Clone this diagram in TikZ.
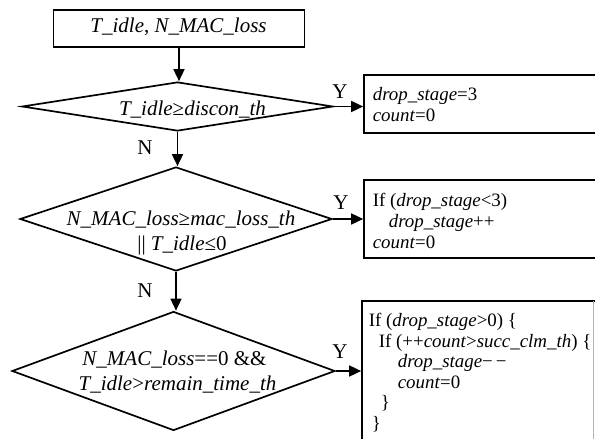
\documentclass[tikz,border=0pt]{standalone}
\usepackage{fontspec}
\setmainfont{Liberation Serif}
\usetikzlibrary{shapes.geometric,arrows.meta}
\begin{document}
\begin{tikzpicture}[x=1pt,y=-1pt,
  line width=1.7pt,
  flow/.style={-{Triangle[length=12pt,width=11pt]}},
  dia/.style={diamond,draw,inner sep=0pt},
  box/.style={draw,inner sep=0pt},
  main/.style={font=\fontsize{21}{24}\selectfont,inner sep=0pt,anchor=base},
  code/.style={font=\fontsize{18.9}{21}\selectfont,inner sep=0pt,anchor=base west},
  yn/.style={font=\fontsize{21}{24}\selectfont,inner sep=0pt}
]
\useasboundingbox (0,0) rectangle (595,439);
\clip (0,0) rectangle (595,439);

% input box
\node[box, minimum width=251pt, minimum height=37pt] (start) at (179,28.5) {};
\node[main] (startT) at (178.5,32.5) {\textit{T\_idle}, \textit{N\_MAC\_loss}};

% decisions
\node[dia, minimum width=311pt, minimum height=49pt] (d1) at (177.5,106.5) {};
\node[main] (d1T) at (192.5,115) {\textit{T\_idle}≥\textit{discon\_th}};

\node[dia, minimum width=312pt, minimum height=104pt] (d2) at (176,219) {};
\node[main] (d2Ta) at (181,225.5) {\textit{N\_MAC\_loss}≥\textit{mac\_loss\_th}};
\node[main] (d2Tb) at (182,250.5) {|| \textit{T\_idle}≤0};

\node[dia, minimum width=323pt, minimum height=119pt] (d3) at (173.5,371) {};
\node[main] (d3Ta) at (174.5,365.5) {\textit{N\_MAC\_loss}==0 \&\&};
\node[main] (d3Tb) at (177.5,390.5) {\textit{T\_idle}>\textit{remain\_time\_th}};

% action boxes
\node[box, minimum width=241pt, minimum height=58pt] (b1) at (484.5,104) {};
\node[code] (b1a) at (372,100) {\textit{drop\_stage}=3};
\node[code] (b1b) at (372,121) {\textit{count}=0};

\node[box, minimum width=241pt, minimum height=78pt] (b2) at (484.5,219) {};
\node[code] (b2a) at (372,206) {If (\textit{drop\_stage}<3)};
\node[code] (b2b) at (388,227) {\textit{drop\_stage}++};
\node[code] (b2c) at (372,248) {\textit{count}=0};

\node[box, minimum width=243pt, minimum height=144pt] (b3) at (483.5,373) {};
\draw[gray!60, line width=0.7pt] (593.5,301) -- (593.5,439);
\node[code] (b3a) at (368,326.5) {If (\textit{drop\_stage}>0) \{};
\node[code] (b3b) at (378,347) {If (++\textit{count}>\textit{succ\_clm\_th}) \{};
\node[code] (b3c) at (397,367.5) {\textit{drop\_stage}−\,−};
\node[code] (b3d) at (397,388) {\textit{count}=0};
\node[code] (b3e) at (380,408.5) {\}};
\node[code] (b3f) at (371,429) {\}};

% connectors
\draw[flow] (start.south) -- (start.south |- d1.north);
\draw[flow] (d1.south) -- (d1.south |- d2.north);
\draw[flow] (d2.south) -- (d2.south |- d3.north);
\draw[flow] (d1.east) -- (d1.east -| b1.west);
\draw[flow] (d2.east) -- (d2.east -| b2.west);
\draw[flow] (d3.east) -- (d3.east -| b3.west);

% branch labels
\node[yn] (y1) at (340,91.5) {Y};
\node[yn] (y2) at (341,203) {Y};
\node[yn] (y3) at (340,352) {Y};
\node[yn] (n1) at (145,148) {N};
\node[yn] (n2) at (145,291) {N};
\end{tikzpicture}
\end{document}
